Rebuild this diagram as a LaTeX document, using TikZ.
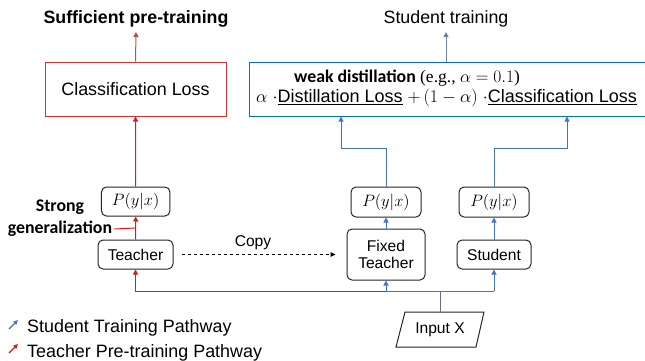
\RequirePackage{fix-cm}
\documentclass[tikz,border=0pt]{standalone}
\usepackage{fontspec}
\setmainfont{Liberation Sans}
\newfontfamily\calib{Carlito}
\newfontfamily\serifn{Liberation Serif}
\usetikzlibrary{arrows.meta,calc}
\definecolor{tred}{RGB}{228,20,20}
\definecolor{tredbox}{RGB}{225,45,45}
\definecolor{tredup}{RGB}{190,80,80}
\definecolor{sblue}{RGB}{68,114,196}
\definecolor{dblue}{RGB}{0,112,192}
\definecolor{upblue}{RGB}{105,135,180}
\definecolor{mixc}{RGB}{125,100,150}
\begin{document}
\begin{tikzpicture}[x=1pt,y=-1pt,
  tip/.style={-{Triangle[length=5pt,width=5pt]}},
  redline/.style={draw=tred,line width=1pt},
  blueline/.style={draw=sblue,line width=1pt},
  rbox/.style={draw=black!85,line width=1pt,rounded corners=5pt,inner sep=0pt,
    font=\fontsize{15.6}{18}\selectfont,align=center},
  pbox/.style={rbox,font=\fontsize{16.5}{18}\selectfont},
  lbl/.style={inner sep=0pt,font=\fontsize{17.8}{20}\selectfont}]
\useasboundingbox (0,0) rectangle (645,360);

% titles
\node[lbl,font=\bfseries\fontsize{17.8}{20}\selectfont] (suf) at (136,19) {Sufficient pre-training};
\node[lbl] (stt) at (446,19) {Student training};
\coordinate (sufin) at (136,32);
\coordinate (sttin) at (446,32);

% loss boxes
\node[draw=tredbox,line width=1pt,minimum width=181pt,minimum height=54pt,inner sep=0pt,
  font=\fontsize{17.9}{20}\selectfont] (cls) at (135.5,89) {Classification Loss};
\node[draw=dblue,line width=1pt,minimum width=399pt,minimum height=54pt,inner sep=0pt] (dist) at (448.5,89) {};
\node[inner sep=0pt,anchor=base west] (wd) at (294,82)
  {{\calib\bfseries\fontsize{17.8}{20}\selectfont weak distillation}{\serifn\fontsize{17.5}{20}\selectfont\ (e.g., $\alpha=0.1$)}};
\node[inner sep=0pt,anchor=base west,font=\fontsize{18}{20}\selectfont] (form) at (256,102.5)
  {$\alpha$ $\cdot$\underline{Distillation Loss} $+\,(1-\alpha)$ $\cdot$\underline{Classification Loss}};

% model boxes
\node[pbox,minimum width=68.5pt,minimum height=29pt] (pT) at (135.7,201.5) {$P(y|x)$};
\node[rbox,minimum width=75pt,minimum height=29pt] (teacher) at (135.5,254.5) {Teacher};
\node[pbox,minimum width=70pt,minimum height=30pt] (pF) at (386,202) {$P(y|x)$};
\node[rbox,minimum width=78pt,minimum height=51pt] (fixed) at (386,254.5) {Fixed\\[-1pt]Teacher};
\node[pbox,minimum width=70pt,minimum height=30pt] (pS) at (494,202) {$P(y|x)$};
\node[rbox,minimum width=74pt,minimum height=29pt] (student) at (494,254.5) {Student};

% input
\node[inner sep=0pt,font=\fontsize{15.6}{18}\selectfont,minimum width=80pt,minimum height=35pt] (input) at (440,329.5) {Input X};
\draw[black!85,line width=1pt] (405,312) -- (484,312) -- (476,347) -- (396,347) -- cycle;

% strong generalization
\node[inner sep=2pt,font=\calib\bfseries\fontsize{17.8}{20}\selectfont] (strong) at (60,207) {Strong};
\node[inner sep=2pt,font=\calib\bfseries\fontsize{17.8}{20}\selectfont] (gen) at (60,229) {generalization};

% coordinates
\coordinate (mid) at ($(teacher.north)!0.5!(pT.south)$);
\coordinate (jF) at (fixed.south |- 0,291);
\coordinate (jI) at (input.north |- 0,291);
\coordinate (jS) at (student.south |- 0,291);
\coordinate (kF) at (341,148);
\coordinate (kS) at (567,148);

% teacher pathway (red)
\draw[draw=tredup,line width=1pt,-{Triangle[length=5pt,width=5pt,fill=tred]}] (cls.north) -- (sufin);
\draw[redline,-{Triangle[length=5pt,width=5pt,fill=tred]}] (pT.north) -- (cls.south);
\draw[redline,-{Triangle[length=5pt,width=5pt,fill=tred]}] (teacher.north) -- (pT.south);
\draw[redline] (gen.east) -- (mid);
\draw[redline,-{Triangle[length=5pt,width=5pt,fill=tred]}] (jF) -| (teacher.south);

% student pathway (blue)
\draw[draw=mixc,line width=1pt] (input.north) -- (jI);
\draw[blueline] (jF) -- (jS);
\draw[blueline,tip] (jF) -- (fixed.south);
\draw[blueline,tip] (jS) -- (student.south);
\draw[blueline,tip] (fixed.north) -- (pF.south);
\draw[blueline,tip] (student.north) -- (pS.south);
\draw[blueline,tip] (pF.north) |- (kF) -- (kF |- dist.south);
\draw[blueline,tip] (pS.north) |- (kS) -- (kS |- dist.south);
\draw[draw=upblue,line width=1pt,-{Triangle[length=5pt,width=5pt,fill=sblue]}] (dist.north -| sttin) -- (sttin);

% copy
\draw[black,line width=0.8pt,dashed,-{Triangle[length=5pt,width=4.5pt]},shorten <=8pt,shorten >=11pt] (teacher.east) -- (fixed.west |- teacher.east);
\node[lbl,font=\fontsize{15.6}{18}\selectfont] (copy) at (253,243) {Copy};

% legend
\node[inner sep=0pt,anchor=base west,font=\fontsize{17.9}{20}\selectfont] (leg1) at (27,332) {Student Training Pathway};
\node[inner sep=0pt,anchor=base west,font=\fontsize{17.9}{20}\selectfont] (leg2) at (27,357) {Teacher Pre-training Pathway};
\draw[draw=sblue,line width=1.2pt,-{Triangle[length=4.5pt,width=4pt]}] ($(leg1.base west)+(-18,-3)$) -- ($(leg1.base west)+(-9,-12)$);
\draw[draw=tred,line width=1.2pt,-{Triangle[length=4.5pt,width=4pt]}] ($(leg2.base west)+(-18,-4)$) -- ($(leg2.base west)+(-9,-13)$);
\end{tikzpicture}
\end{document}
